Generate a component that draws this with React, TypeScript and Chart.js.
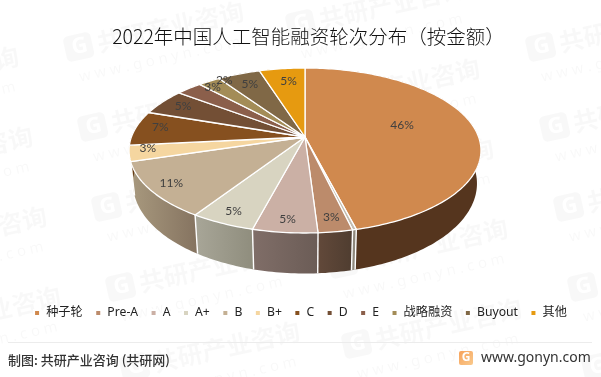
import React, { useEffect, useRef } from "react";
import { Chart, registerables } from "chart.js";

Chart.register(...registerables);

const categories = ["种子轮", "", "Pre-A", "A", "A+", "B", "B+", "C", "D", "E", "战略融资", "Buyout", "其他"];
const shares = [46.0, 0.3, 2.7, 5.1, 5.1, 11.1, 3.1, 6.8, 5.1, 2.8, 2.4, 4.6, 4.9];
const topColors = ["#D0894E", "#C4BDB0", "#BC8B6B", "#CBB0A5", "#D8D4C1", "#C4B094", "#F5D6A0", "#86501F", "#734F35", "#8B5F4B", "#A38C57", "#806846", "#E69A10"];
const sideLeft = ["#55351E", "#8F887C", "#62493A", "#806E68", "#A8A698", "#A8997E", "#C4A878", "#6A3F18", "#5A3E2A", "#6E4B3B", "#816F45", "#655237", "#B67A0C"];
const sideRight = ["#55351E", "#8F887C", "#4F3D30", "#6B5C56", "#8F8D7D", "#857360", "#B09566", "#5A3514", "#4C3424", "#5E4032", "#6E5E3A", "#56462F", "#9A680A"];
const labelRadius = [0.6, 0, 0.88, 0.88, 0.88, 0.88, 0.88, 0.78, 0.78, 0.78, 0.78, 0.78, 0.78];
const labelNudge = [[-5, -6], [0, 0], [0, -1], [0, 0], [0, 0], [0, 0], [-3, -3], [-12, -3], [-9, -3], [0, -11], [-4, -12], [-2, -2], [2, -1]];

const TITLE = "2022年中国人工智能融资轮次分布（按金额）";
const SOURCE = "制图: 共研产业咨询 (共研网)";
const SITE = "www.gonyn.com";
const WM_TEXT = "共研产业咨询";
const WM_SITE = "w w w . g o n y n . c o m";

const SANS = '"Noto Sans", "Noto Sans CJK SC", sans-serif';

// Projection of the flat pie on to the tilted top face.
const CX = 305, APEX_Y = 137, A = 173.6, B = 80.3, K = 0.1636;
const TOP = { cy: 150.5, a: 176, b: 82.5 };
const BOT = { cy: 183.5, a: 172, b: 90 };

const project = (phi: number, r = 1) => {
  const u = r * Math.sin(phi);
  const v = -r * Math.cos(phi);
  const d = 1 - K * v;
  return { x: CX + (A * u) / d, y: APEX_Y + (B * v) / d };
};
const lower = (p: { x: number; y: number }) => {
  const c = (p.x - CX) / TOP.a;
  const s = (p.y - TOP.cy) / TOP.b;
  return { x: CX + BOT.a * c, y: BOT.cy + BOT.b * s };
};

const watermark = (ctx: CanvasRenderingContext2D) => {
  const cols: [number, number, number][] = [
    [-160, 95, 4],
    [65, 50, 5],
    [287, 27, 5],
    [527, 50, 5],
  ];
  ctx.save();
  cols.forEach(([x0, y0, n]) => {
    for (let j = 0; j < n; j++) {
      ctx.save();
      ctx.translate(x0 + 14 * j, y0 + 80 * j);
      ctx.rotate((-12.5 * Math.PI) / 180);
      ctx.fillStyle = "rgba(0,0,0,0.028)";
      ctx.textBaseline = "middle";
      ctx.beginPath();
      ctx.roundRect(0, -13, 28, 26, 5);
      ctx.fill();
      ctx.fillStyle = "#fff";
      ctx.font = `bold 22px ${SANS}`;
      ctx.fillText("G", 7, 0);
      ctx.fillStyle = "rgba(0,0,0,0.028)";
      ctx.font = `bold 25px "Noto Sans CJK SC", sans-serif`;
      ctx.fillText(WM_TEXT, 33, 0);
      ctx.font = `15px ${SANS}`;
      ctx.fillText(WM_SITE, 8, 30);
      ctx.restore();
    }
  });
  ctx.restore();
};

const pie3d = {
  id: "pie3d",
  afterLayout(chart: any) {
    chart.titleBlock.left += 8;
    chart.titleBlock.right += 8;
  },
  beforeDraw(chart: any) {
    const ctx = chart.ctx;
    ctx.save();
    ctx.fillStyle = "#fff";
    ctx.fillRect(0, 0, chart.width, chart.height);
    ctx.restore();
    watermark(ctx);
  },
  beforeDatasetsDraw(chart: any) {
    const ctx = chart.ctx as CanvasRenderingContext2D;
    const arcs = chart.getDatasetMeta(0).data;
    const angles = arcs.map((a: any) => {
      const p = a.getProps(["startAngle", "endAngle"], true);
      return [p.startAngle + Math.PI / 2, p.endAngle + Math.PI / 2];
    });
    const rim = (s: number, e: number) => {
      const n = Math.max(2, Math.ceil((e - s) / 0.02));
      const pts = [];
      for (let i = 0; i <= n; i++) pts.push(project(s + ((e - s) * i) / n));
      return pts;
    };
    ctx.save();
    // side wall
    angles.forEach(([s, e]: number[], i: number) => {
      const pts = rim(s, e);
      const low = pts.map(lower);
      const xs = pts.map((p) => p.x).concat(low.map((p) => p.x));
      const g = ctx.createLinearGradient(Math.min(...xs), 0, Math.max(...xs), 0);
      g.addColorStop(0, sideLeft[i]);
      g.addColorStop(1, sideRight[i]);
      ctx.beginPath();
      pts.forEach((p, k) => (k ? ctx.lineTo(p.x, p.y) : ctx.moveTo(p.x, p.y)));
      low.reverse().forEach((p) => ctx.lineTo(p.x, p.y));
      ctx.closePath();
      ctx.fillStyle = g;
      ctx.fill();
    });
    // dividers on the wall
    ctx.strokeStyle = "#fff";
    ctx.lineWidth = 1.4;
    angles.forEach(([, e]: number[]) => {
      const p = project(e);
      if (p.y < TOP.cy) return;
      const q = lower(p);
      ctx.beginPath();
      ctx.moveTo(p.x, p.y);
      ctx.lineTo(q.x, q.y);
      ctx.stroke();
    });
    // top face
    angles.forEach(([s, e]: number[], i: number) => {
      const pts = rim(s, e);
      ctx.beginPath();
      ctx.moveTo(CX, APEX_Y);
      pts.forEach((p) => ctx.lineTo(p.x, p.y));
      ctx.closePath();
      ctx.fillStyle = topColors[i];
      ctx.fill();
      ctx.strokeStyle = "#fff";
      ctx.lineWidth = 1.3;
      ctx.lineJoin = "round";
      ctx.stroke();
    });
    // labels
    const total = shares.reduce((a, b) => a + b, 0);
    ctx.fillStyle = "#404040";
    ctx.font = `12px Lato, ${SANS}`;
    ctx.textAlign = "center";
    ctx.textBaseline = "middle";
    angles.forEach(([s, e]: number[], i: number) => {
      if (!categories[i]) return;
      const p = project((s + e) / 2, labelRadius[i]);
      const text = `${Math.round((shares[i] / total) * 100)}%`;
      ctx.fillText(text, p.x + labelNudge[i][0], p.y + labelNudge[i][1]);
    });
    ctx.restore();
    return false;
  },
  afterDraw(chart: any) {
    const ctx = chart.ctx as CanvasRenderingContext2D;
    ctx.save();
    ctx.strokeStyle = "#ececec";
    ctx.lineWidth = 1;
    ctx.beginPath();
    ctx.moveTo(8, 342.5);
    ctx.lineTo(592, 342.5);
    ctx.stroke();
    ctx.fillStyle = "#333";
    ctx.textBaseline = "middle";
    ctx.textAlign = "left";
    ctx.font = `500 13px "Noto Sans CJK SC", sans-serif`;
    ctx.fillText(SOURCE, 8, 360);
    ctx.font = `14px ${SANS}`;
    ctx.fillText(SITE, 481, 358);
    const g = ctx.createLinearGradient(459, 351, 473, 365);
    g.addColorStop(0, "#F7A25A");
    g.addColorStop(1, "#F9C98C");
    ctx.fillStyle = g;
    ctx.beginPath();
    ctx.roundRect(459, 351, 14, 14, 2);
    ctx.fill();
    ctx.fillStyle = "#fff";
    ctx.textAlign = "center";
    ctx.font = `bold 12px ${SANS}`;
    ctx.fillText("G", 466, 358);
    ctx.restore();
  },
};

export default function App() {
  const ref = useRef<HTMLCanvasElement>(null);
  useEffect(() => {
    const chart = new Chart(ref.current!, {
      type: "pie",
      data: {
        labels: categories,
        datasets: [{ data: shares, backgroundColor: topColors }],
      },
      options: {
        responsive: false,
        animation: false,
        layout: { padding: { bottom: 48 } },
        plugins: {
          title: {
            display: true,
            text: TITLE,
            color: "#111",
            font: { family: '"Noto Sans CJK SC", sans-serif', size: 19.5, weight: "300" },
            padding: { top: 25, bottom: 0 },
          },
          legend: {
            position: "bottom",
            labels: {
              boxWidth: 6,
              boxHeight: 6,
              padding: 12.5,
              color: "#222",
              font: { family: SANS, size: 12.2 },
              filter: (item: any) => item.text !== "",
            },
          },
          tooltip: { enabled: false },
        },
      },
      plugins: [pie3d as any],
    });
    return () => chart.destroy();
  }, []);
  return (
    <div style={{ position: "absolute", left: 0, top: 0, width: 601, height: 377 }}>
      <canvas ref={ref} width={601} height={377} style={{ display: "block" }} />
    </div>
  );
}
